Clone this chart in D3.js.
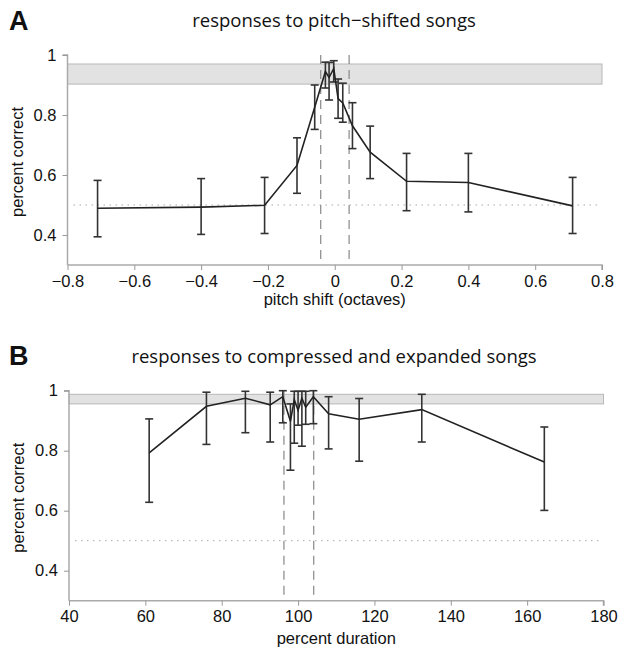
<!DOCTYPE html>
<html><head><meta charset="utf-8">
<script src="https://cdn.jsdelivr.net/npm/d3@7/dist/d3.min.js"></script>
<style>body{margin:0;background:#fff}svg{display:block}</style>
</head><body>
<script>
// ---- Panel A data: pitch shift (octaves) ----
const pitchShift = [-0.71, -0.40, -0.21, -0.113, -0.06, -0.028, -0.017, -0.003, 0.010, 0.024, 0.053, 0.106, 0.215, 0.40, 0.712];
const pitchCorrect = [0.489, 0.493, 0.499, 0.632, 0.826, 0.945, 0.925, 0.955, 0.855, 0.840, 0.764, 0.676, 0.579, 0.575, 0.497];
const pitchLow = [0.394, 0.402, 0.405, 0.539, 0.752, 0.890, 0.850, 0.910, 0.789, 0.776, 0.688, 0.588, 0.481, 0.477, 0.405];
const pitchHigh = [0.582, 0.588, 0.592, 0.724, 0.900, 0.976, 0.975, 0.981, 0.920, 0.906, 0.841, 0.763, 0.672, 0.672, 0.592];
const pitchTicks = [-0.8, -0.6, -0.4, -0.2, 0, 0.2, 0.4, 0.6, 0.8];
const pitchBand = [0.903, 0.970];
const pitchDashed = [-0.042, 0.043];

// ---- Panel B data: percent duration ----
const duration = [61, 76, 86.2, 92.7, 96, 98, 99, 100, 101, 102, 104, 108, 116, 132.4, 164.5];
const durCorrect = [0.793, 0.948, 0.975, 0.953, 0.980, 0.898, 0.970, 0.935, 0.975, 0.945, 0.980, 0.923, 0.905, 0.937, 0.762];
const durLow = [0.628, 0.821, 0.860, 0.829, 0.893, 0.735, 0.825, 0.885, 0.815, 0.888, 0.890, 0.806, 0.765, 0.829, 0.601];
const durHigh = [0.906, 0.995, 0.998, 0.995, 1.000, 0.956, 0.998, 0.998, 0.998, 0.998, 1.000, 0.980, 0.974, 0.988, 0.879];
const durTicks = [40, 60, 80, 100, 120, 140, 160, 180];
const durBand = [0.956, 0.988];
const durDashed = [96.3, 104.1];

const yTicks = [0.4, 0.6, 0.8, 1];
const yTickLabels = ["0.4", "0.6", "0.8", "1"];
const chance = 0.5;

const W = 624, H = 661;
const svg = d3.select("body").append("svg").attr("width", W).attr("height", H);

const tickFont = "'Liberation Sans', Arial, Helvetica, sans-serif";
const titleFont = "'Open Sans', 'Noto Sans', sans-serif";

function panel(cfg) {
  const x = d3.scaleLinear().domain(cfg.xDomain).range(cfg.xRange);
  const y = d3.scaleLinear().domain([0.3, 1]).range(cfg.yRange);
  const g = svg.append("g");

  // panel letter & title
  g.append("text").attr("x", 9).attr("y", cfg.letterY).text(cfg.letter)
    .attr("font-family", tickFont).attr("font-weight", "bold").attr("font-size", 27).attr("fill", "#111");
  g.append("text").attr("x", 334).attr("y", cfg.titleY).attr("text-anchor", "middle")
    .text(cfg.title).attr("font-family", titleFont).attr("font-size", cfg.titleSize).attr("fill", "#111");

  // grey band
  g.append("rect").attr("x", x(cfg.xDomain[0])).attr("width", x(cfg.xDomain[1]) - x(cfg.xDomain[0]))
    .attr("y", y(cfg.band[1])).attr("height", y(cfg.band[0]) - y(cfg.band[1]))
    .attr("fill", "#e2e2e2").attr("stroke", "#b8b8b8").attr("stroke-width", 1);

  // chance line
  g.append("line").attr("x1", x(cfg.xDomain[0]) + 6).attr("x2", x(cfg.xDomain[1]) - 4)
    .attr("y1", y(chance)).attr("y2", y(chance))
    .attr("stroke", "#aaa").attr("stroke-width", 1).attr("stroke-dasharray", "1.5,4.5");

  // dashed verticals
  g.selectAll(".dv").data(cfg.dashed).enter().append("line")
    .attr("x1", d => x(d)).attr("x2", d => x(d)).attr("y1", y(1)).attr("y2", y(0.3))
    .attr("stroke", "#888").attr("stroke-width", 1.2).attr("stroke-dasharray", "9,6");

  // axes
  const yAxis = d3.axisLeft(y).tickValues(yTicks).tickFormat((d, i) => yTickLabels[i]).tickSize(5).tickPadding(6);
  const ya = g.append("g").attr("transform", `translate(${cfg.xRange[0]},0)`).call(yAxis);
  const xAxis = d3.axisBottom(x).tickValues(cfg.xTicks).tickFormat(cfg.fmt).tickSize(5).tickPadding(5);
  const xa = g.append("g").attr("transform", `translate(0,${cfg.yRange[0]})`).call(xAxis);
  [ya, xa].forEach(a => {
    a.select(".domain").attr("stroke", "#aaa").attr("stroke-width", 1.5);
    a.selectAll(".tick line").attr("stroke", "#999");
    a.selectAll(".tick text").attr("font-family", tickFont).attr("font-size", 16.5).attr("fill", "#111");
  });
  ya.select(".domain").attr("d", `M-5,${y(1)}H0V${y(0.3)}`);
  xa.select(".domain").attr("d", `M${x(cfg.xDomain[0])},0H${x(cfg.xDomain[1])}V5`);

  // axis titles
  g.append("text").attr("transform", `translate(${cfg.yLabelX},${(y(1) + y(0.3)) / 2 + 2}) rotate(-90)`)
    .attr("text-anchor", "middle").text("percent correct")
    .attr("font-family", tickFont).attr("font-size", 16.5).attr("fill", "#111");
  g.append("text").attr("x", (x(cfg.xDomain[0]) + x(cfg.xDomain[1])) / 2).attr("y", cfg.xLabelY)
    .attr("text-anchor", "middle").text(cfg.xLabel)
    .attr("font-family", tickFont).attr("font-size", 16.5).attr("fill", "#111");

  // data
  const pts = cfg.xs.map((v, i) => ({x: v, y: cfg.ys[i], lo: cfg.lo[i], hi: cfg.hi[i]}));
  const eb = g.append("g").attr("stroke", "#333").attr("stroke-width", 1.6).attr("fill", "none");
  pts.forEach(p => {
    eb.append("line").attr("x1", x(p.x)).attr("x2", x(p.x)).attr("y1", y(p.lo)).attr("y2", y(p.hi));
    eb.append("line").attr("x1", x(p.x) - 4).attr("x2", x(p.x) + 4).attr("y1", y(p.lo)).attr("y2", y(p.lo));
    eb.append("line").attr("x1", x(p.x) - 4).attr("x2", x(p.x) + 4).attr("y1", y(p.hi)).attr("y2", y(p.hi));
  });
  g.append("path").datum(pts)
    .attr("d", d3.line().x(d => x(d.x)).y(d => y(d.y)))
    .attr("fill", "none").attr("stroke", "#222").attr("stroke-width", 1.6);
}

panel({
  letter: "A", letterY: 30, title: "responses to pitch\u2212shifted songs", titleY: 27, titleSize: 18.5,
  xDomain: [-0.8, 0.8], xRange: [67.5, 602], yRange: [265, 55],
  xTicks: pitchTicks, fmt: d => d === 0 ? "0" : (d < 0 ? "\u2212" : "") + Math.abs(d).toFixed(1),
  band: pitchBand, dashed: pitchDashed,
  xs: pitchShift, ys: pitchCorrect, lo: pitchLow, hi: pitchHigh,
  yLabelX: 23, xLabel: "pitch shift (octaves)", xLabelY: 305
});

panel({
  letter: "B", letterY: 365, title: "responses to compressed and expanded songs", titleY: 363, titleSize: 18.5,
  xDomain: [40, 180], xRange: [69, 603.5], yRange: [600.7, 390.7],
  xTicks: durTicks, fmt: d => String(d),
  band: durBand, dashed: durDashed,
  xs: duration, ys: durCorrect, lo: durLow, hi: durHigh,
  yLabelX: 24, xLabel: "percent duration", xLabelY: 644
});
</script>
</body></html>
